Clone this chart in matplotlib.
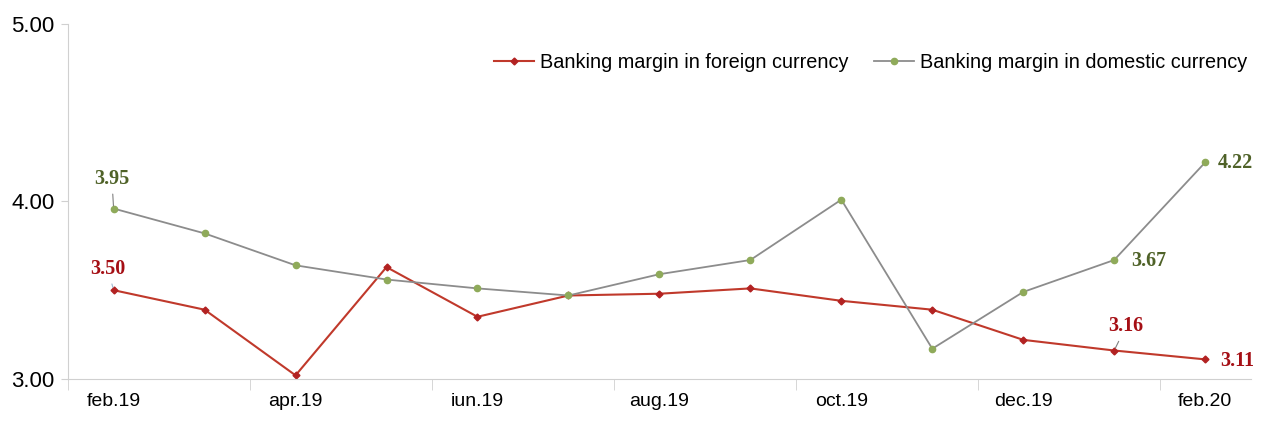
import numpy as np
import matplotlib.pyplot as plt

months = ['feb.19', 'mar.19', 'apr.19', 'may.19', 'iun.19', 'iul.19', 'aug.19',
          'sep.19', 'oct.19', 'nov.19', 'dec.19', 'ian.20', 'feb.20']
foreign = [3.50, 3.39, 3.02, 3.63, 3.35, 3.47, 3.48, 3.51, 3.44, 3.39, 3.22, 3.16, 3.11]
domestic = [3.96, 3.82, 3.64, 3.56, 3.51, 3.47, 3.59, 3.67, 4.01, 3.17, 3.49, 3.67, 4.22]
tick_labels = ['feb.19', 'apr.19', 'iun.19', 'aug.19', 'oct.19', 'dec.19', 'feb.20']

plt.rcParams['font.family'] = ['Liberation Sans', 'DejaVu Sans']

fig = plt.figure(figsize=(12.62, 4.21), dpi=100)
ax = fig.add_axes([0.054, 0.1, 0.937, 0.843])

x = np.arange(len(months))
ax.plot(x, foreign, color='#C0392B', lw=1.5, marker='D', ms=3.5,
        mfc='#B22222', mec='#B22222', label='Banking margin in foreign currency')
ax.plot(x, domestic, color='#8C8C8C', lw=1.3, marker='o', ms=4.5,
        mfc='#8FAA5A', mec='#8FAA5A', label='Banking margin in domestic currency')

ax.set_xlim(-0.5, len(months) - 0.5)
ax.set_ylim(3.0, 5.0)
ax.set_yticks([3.0, 4.0, 5.0])
ax.set_yticklabels(['3.00', '4.00', '5.00'], fontsize=16)

# labels under every second month, ticks between the pairs
ax.set_xticks(x[::2])
ax.set_xticklabels(tick_labels, fontsize=14)
ax.tick_params(axis='x', length=0, pad=10)
ax.set_xticks(np.arange(-0.5, len(months), 2), minor=True)
ax.tick_params(axis='x', which='minor', length=8, color='#D0D0D0')
ax.tick_params(axis='y', length=5, color='#D0D0D0', pad=5)

for s in ['top', 'right']:
    ax.spines[s].set_visible(False)
for s in ['left', 'bottom']:
    ax.spines[s].set_color('#D0D0D0')

red = '#A50F15'
green = '#4F6228'
lab = dict(fontsize=14.5, fontweight='bold', family='Liberation Serif')
ax.annotate('3.95', (0, domestic[0]), xytext=(-14, 18), textcoords='offset points',
            color=green, arrowprops=dict(arrowstyle='-', color='#808080', lw=0.8), **lab)
ax.annotate('3.50', (0, foreign[0]), xytext=(-17, 12), textcoords='offset points',
            color=red, arrowprops=dict(arrowstyle='-', color='#9DB8D0', lw=0.8), **lab)
ax.annotate('4.22', (12, domestic[12]), xytext=(9, -4), textcoords='offset points',
            color=green, **lab)
ax.annotate('3.67', (11, domestic[11]), xytext=(12, -4), textcoords='offset points',
            color=green, **lab)
ax.annotate('3.16', (11, foreign[11]), xytext=(-4, 14), textcoords='offset points',
            color=red, arrowprops=dict(arrowstyle='-', color='#808080', lw=0.8), **lab)
ax.annotate('3.11', (12, foreign[12]), xytext=(11, -5), textcoords='offset points',
            color=red, **lab)

ax.legend(loc='upper right', bbox_to_anchor=(1.012, 0.97), ncol=2, frameon=False,
          fontsize=14.3, handlelength=2.0, handletextpad=0.3, columnspacing=1.3)

fig.savefig('out.png', dpi=100)
